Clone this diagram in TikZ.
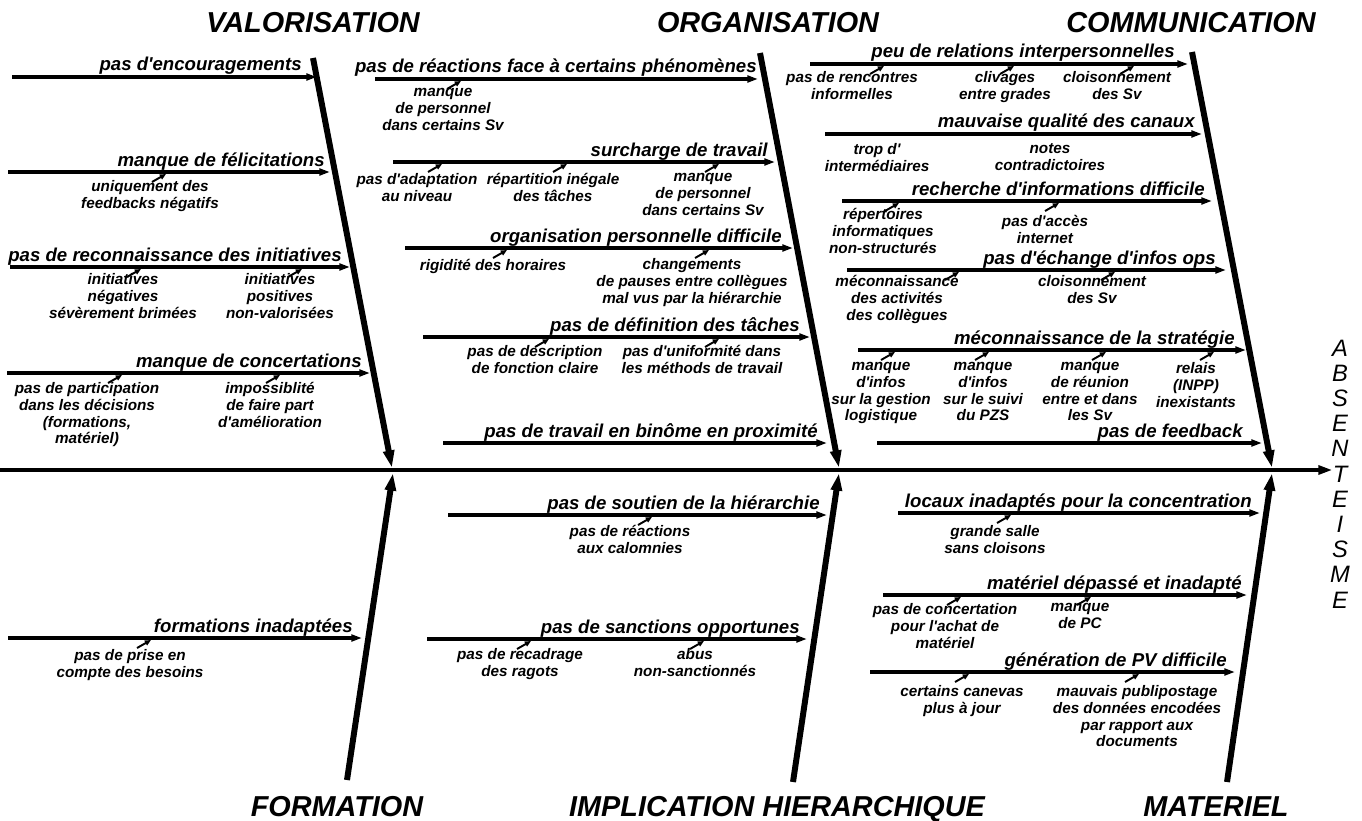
\documentclass[tikz,border=0pt]{standalone}
\usepackage{fontspec}
\setmainfont{Liberation Sans}[Ligatures=TeXOff]
\usetikzlibrary{arrows.meta}

\begin{document}
\begin{tikzpicture}[x=0.02cm, y=-0.02cm,
  bone/.style={line width=3.4pt, -{Triangle[length=10pt,width=6pt]}},
  spine/.style={line width=2.4pt, -{Triangle[length=8pt,width=5pt]}},
  branch/.style={line width=1.8pt, -{Triangle[length=6pt,width=3.8pt]}},
  pointer/.style={line width=1.1pt, -{Triangle[length=3.5pt,width=3pt]}},
  heading/.style={anchor=base, inner sep=0pt, font=\fontsize{16.4}{18}\selectfont\bfseries\itshape},
  blabel/.style={anchor=base east, inner sep=0pt, font=\fontsize{10.6}{12}\selectfont\bfseries\itshape},
  cause/.style={anchor=north, align=center, inner sep=0pt, font=\fontsize{8.7}{9.5}\selectfont\bfseries\itshape, execute at begin node=\strut},
  letter/.style={font=\fontsize{13.5}{15}\selectfont\itshape, inner sep=0pt}]
\fill[white] (0,0) rectangle (1362,821);
\useasboundingbox (0,0) rectangle (1362,821);

% categories
\node[heading] (valo) at (313,33) {VALORISATION};
\node[heading] (orga) at (768,33) {ORGANISATION};
\node[heading] (comm) at (1191,33) {COMMUNICATION};
\node[heading] (form) at (337,816) {FORMATION};
\node[heading] (impl) at (777,816) {IMPLICATION HIERARCHIQUE};
\node[heading] (mate) at (1216,816) {MATERIEL};

% effect
\foreach \l [count=\i from 0] in {A,B,S,E,N,T,E,I,S,M,E}
  \node[letter] (abs\i) at (1340,348+25.2*\i) {\l};

% spine and bones
\coordinate (sp-start) at (0,470);
\draw[spine] (sp-start) -- (sp-start -| abs5.west);
\coordinate (valo-top) at (313,58);   \coordinate (valo-tip) at (392,468);
\coordinate (orga-top) at (760,53);   \coordinate (orga-tip) at (839,468);
\coordinate (comm-top) at (1192,52);  \coordinate (comm-tip) at (1272,468);
\coordinate (form-bot) at (347,780);  \coordinate (form-tip) at (393,473);
\coordinate (impl-bot) at (793,782);  \coordinate (impl-tip) at (839,473);
\coordinate (mate-bot) at (1227,782); \coordinate (mate-tip) at (1272,473);
\draw[bone] (valo-top) -- (valo-tip);
\draw[bone] (orga-top) -- (orga-tip);
\draw[bone] (comm-top) -- (comm-tip);
\draw[bone] (form-bot) -- (form-tip);
\draw[bone] (impl-bot) -- (impl-tip);
\draw[bone] (mate-bot) -- (mate-tip);

% branches: name/line y/start x/end x/label right x/label
\foreach \n/\yy/\xa/\xb/\tx/\t in {
  b1/77/12/317/302/{pas d'encouragements},
  b2/172/8/330/325/{manque de félicitations},
  b3/267/10/350/342/{pas de reconnaissance des initiatives},
  b4/373/7/370/362/{manque de concertations},
  b5/79/375/758/757/{pas de réactions face à certains phénomènes},
  b6/162/393/775/768/{surcharge de travail},
  b7/248/405/793/782/{organisation personnelle difficile},
  b8/337/423/810/800/{pas de définition des tâches},
  b9/443/443/827/818/{pas de travail en binôme en proximité},
  b10/64/810/1188/1175/{peu de relations interpersonnelles},
  b11/134/825/1202/1195/{mauvaise qualité des canaux},
  b12/201/842/1212/1205/{recherche d'informations difficile},
  b13/270/847/1226/1216/{pas d'échange d'infos ops},
  b14/350/858/1246/1235/{méconnaissance de la stratégie},
  b15/443/877/1262/1243/{pas de feedback},
  b16/515/448/827/820/{pas de soutien de la hiérarchie},
  b17/639/427/807/800/{pas de sanctions opportunes},
  b18/638/8/362/353/{formations inadaptées},
  b19/513/898/1260/1252/{locaux inadaptés pour la concentration},
  b20/595/883/1247/1242/{matériel dépassé et inadapté},
  b21/672/870/1235/1227/{génération de PV difficile}}
{
  \coordinate (\n-s) at (\xa,\yy);
  \coordinate (\n-e) at (\xb,\yy);
  \draw[branch] (\n-s) -- (\n-e);
  \node[blabel] (\n-l) at (\tx,\yy-6) {\t};
}

% causes: name/centre x/first baseline/arrow x/line y/text
\foreach \n/\cx/\by/\ax/\ly/\t in {
  c1/150/192/152/172/{uniquement des\\feedbacks négatifs},
  c2/123/285/127/267/{initiatives\\négatives\\sévèrement brimées},
  c3/280/285/288/267/{initiatives\\positives\\non-valorisées},
  c4/87/394/108/373/{pas de participation\\dans les décisions\\(formations,\\matériel)},
  c5/270/394/266/373/{impossiblité\\de faire part\\d'amélioration},
  c6/443/100/447/79/{manque\\de personnel\\dans certains Sv},
  c7/417/185/428/162/{pas d'adaptation\\au niveau},
  c8/553/185/553/162/{répartition inégale\\des tâches},
  c9/703/185/705/162/{manque\\de personnel\\dans certains Sv},
  c10/493/270/493/248/{rigidité des horaires},
  c11/692/270/695/248/{changements\\de pauses entre collègues\\mal vus par la hiérarchie},
  c12/535/357/535/337/{pas de description\\de fonction claire},
  c13/702/357/705/337/{pas d'uniformité dans\\les méthods de travail},
  c14/852/83/870/64/{pas de rencontres\\informelles},
  c15/1005/83/1000/64/{clivages\\entre grades},
  c16/1117/83/1120/64/{cloisonnement\\des Sv},
  c19/883/220/885/201/{répertoires\\informatiques\\non-structurés},
  c20/1045/227/1045/201/{pas d'accès\\internet},
  c21/897/287/945/270/{méconnaissance\\des activités\\des collègues},
  c22/1092/287/1101/270/{cloisonnement\\des Sv},
  c23/881/374/881/350/{manque\\d'infos\\sur la gestion\\logistique},
  c24/983/374/975/350/{manque\\d'infos\\sur le suivi\\du PZS},
  c25/1090/374/1092/350/{manque\\de réunion\\entre et dans\\les Sv},
  c26/1196/374/1200/350/{relais\\(INPP)\\inexistants},
  c27/630/537/638/515/{pas de réactions\\aux calomnies},
  c28/520/660/517/639/{pas de recadrage\\des ragots},
  c29/695/660/690/639/{abus\\non-sanctionnés},
  c30/130/661/137/638/{pas de prise en\\compte des besoins},
  c31/995/537/997/513/{grande salle\\sans cloisons},
  c32/945/615/947/595/{pas de concertation\\pour l'achat de\\matériel},
  c33/1080/615/1077/595/{manque\\de PC},
  c34/962/697/955/672/{certains canevas\\plus à jour},
  c35/1137/697/1125/672/{mauvais publipostage\\des données encodées\\par rapport aux\\documents}}
{
  \node[cause] (\n) at (\cx,\by-11.7) {\t};
  \coordinate (\n-tail) at (\ax,\ly+10);
  \coordinate (\n-tip) at (\ax+14,\ly+2);
  \draw[pointer] (\n-tail) -- (\n-tip);
}
\node[cause] (c17) at (877,155-11.7) {trop d'\\intermédiaires};
\node[cause] (c18) at (1050,155-11.7) {notes\\contradictoires};
\end{tikzpicture}
\end{document}
